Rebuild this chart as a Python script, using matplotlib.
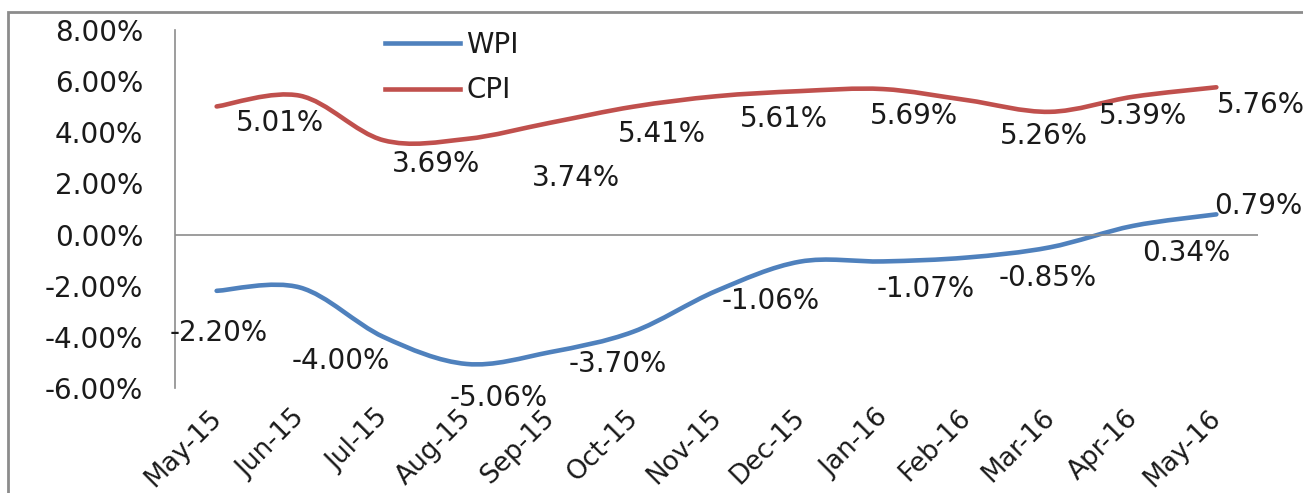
import matplotlib
matplotlib.use("Agg")
import matplotlib.pyplot as plt
from matplotlib.path import Path
from matplotlib.patches import PathPatch, Rectangle
import matplotlib.transforms as mtransforms

months = ['May-15', 'Jun-15', 'Jul-15', 'Aug-15', 'Sep-15', 'Oct-15', 'Nov-15',
          'Dec-15', 'Jan-16', 'Feb-16', 'Mar-16', 'Apr-16', 'May-16']
wpi = [-2.20, -2.07, -4.00, -5.06, -4.60, -3.80, -2.20, -1.06, -1.05, -0.90, -0.50, 0.34, 0.79]
cpi = [5.01, 5.43, 3.69, 3.74, 4.37, 5.00, 5.41, 5.61, 5.69, 5.26, 4.80, 5.39, 5.76]

# data labels as shown in the picture (excel put them a bit off the points)
wpi_labels = [-2.20, -4.00, -5.06, -3.70, -1.06, -1.07, -0.85, 0.34, 0.79]
cpi_labels = [5.01, 3.69, 3.74, 5.41, 5.61, 5.69, 5.26, 5.39, 5.76]
wpi_label_pos = [(0.02, -3.85), (1.49, -4.95), (3.39, -6.40), (4.81, -5.07), (6.65, -2.60),
                 (8.51, -2.13), (9.98, -1.70), (11.64, -0.72), (12.50, 1.11)]
cpi_label_pos = [(0.76, 4.36), (2.63, 2.76), (4.31, 2.21), (5.34, 3.93), (6.81, 4.51),
                 (8.37, 4.63), (9.93, 3.85), (11.12, 4.63), (12.54, 5.06)]

yticks = [-6, -4, -2, 0, 2, 4, 6, 8]

BLUE = '#4F81BD'
RED = '#C0504D'
TXT = '#1a1a1a'
FS = 20


def smooth_path(xs, ys):
    # excel-like smoothed line: cubic bezier through the points
    n = len(xs)
    pts = list(zip(xs, ys))
    verts = [pts[0]]
    codes = [Path.MOVETO]
    for i in range(n - 1):
        p0 = pts[i - 1] if i > 0 else pts[i]
        p1 = pts[i]
        p2 = pts[i + 1]
        p3 = pts[i + 2] if i + 2 < n else pts[i + 1]
        c1 = (p1[0] + (p2[0] - p0[0]) / 6, p1[1] + (p2[1] - p0[1]) / 6)
        c2 = (p2[0] - (p3[0] - p1[0]) / 6, p2[1] - (p3[1] - p1[1]) / 6)
        verts += [c1, c2, p2]
        codes += [Path.CURVE4] * 3
    return Path(verts, codes)


fig = plt.figure(figsize=(13.03, 4.93), dpi=100)
ax = fig.add_axes([175 / 1303, 1 - 388 / 493, (1258 - 175) / 1303, (388 - 30) / 493])

x = list(range(len(months)))
for vals, col, name in [(wpi, BLUE, 'WPI'), (cpi, RED, 'CPI')]:
    patch = PathPatch(smooth_path(x, vals), facecolor='none', edgecolor=col, lw=3.3,
                      capstyle='round', transform=ax.transData)
    ax.add_patch(patch)
    ax.plot([], [], color=col, lw=3.3, label=name)

for v, (px, py) in zip(wpi_labels, wpi_label_pos):
    ax.text(px, py, f'{v:.2f}%', ha='center', va='center', fontsize=FS, color=TXT)
for v, (px, py) in zip(cpi_labels, cpi_label_pos):
    ax.text(px, py, f'{v:.2f}%', ha='center', va='center', fontsize=FS, color=TXT)

ax.axhline(0, color='#8c8c8c', lw=1.2)
ax.set_xlim(-0.5, 12.5)
ax.set_ylim(-6, 8)
ax.set_yticks(yticks, [f'{v:.2f}%' for v in yticks], fontsize=FS, color=TXT)
ax.set_xticks(x, months, fontsize=19, color=TXT, rotation=45, ha='right',
              rotation_mode='anchor')
ax.tick_params(axis='y', length=0, pad=23)
ax.tick_params(axis='x', length=0, pad=12)
shift = mtransforms.ScaledTranslation(-6 / 72, 0, fig.dpi_scale_trans)
for lab in ax.get_xticklabels():
    lab.set_transform(lab.get_transform() + shift)
for s in ['top', 'right', 'bottom']:
    ax.spines[s].set_visible(False)
ax.spines['left'].set_color('#8c8c8c')
ax.spines['left'].set_linewidth(1.2)
ax.patch.set_visible(False)

ax.legend(loc='upper left', bbox_to_anchor=(385 / 1303, 1 - 31 / 493),
          bbox_transform=fig.transFigure, frameon=False, fontsize=FS,
          handlelength=2.7, handletextpad=0.22, labelspacing=0.62,
          borderpad=0, borderaxespad=0, labelcolor=TXT)

# outer chart frame
fig.patches.append(Rectangle((8 / 1303, -0.1), 1.2, 1 - 12 / 493 + 0.1, transform=fig.transFigure,
                             fill=False, edgecolor='#8c8c8c', lw=2, zorder=0))

fig.savefig('out.png', dpi=100)
